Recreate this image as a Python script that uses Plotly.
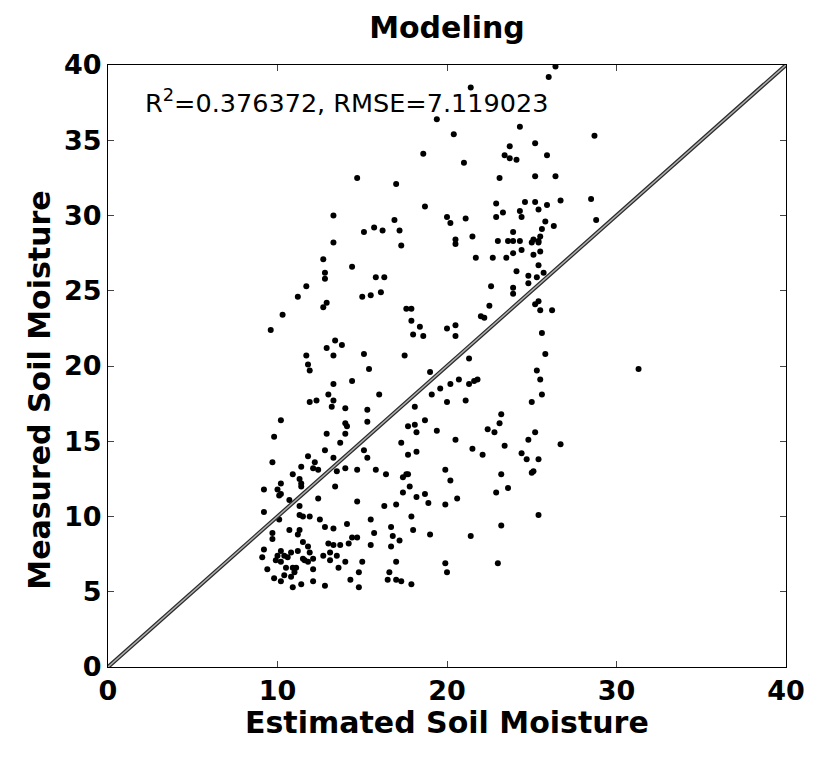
import plotly.graph_objects as go

# Estimated (x) and measured (y) soil moisture
est = [21.4,19.4,20.4,24.3,18.6,21.0,23.7,23.4,23.7,24.1,25.2,14.7,17.0,23.1,25.2,18.7,13.3,16.9,17.2,15.1,15.7,16.2,13.3,17.3,20.0,20.2,21.1,20.5,20.5,21.5,22.9,22.9,23.3,24.6,25.2,25.4,24.3,24.4,23.9,23.0,23.6,23.9,24.3,25.0,25.4,25.5,25.6,21.7,22.7,23.5,23.9,24.4,25.1,25.5,12.7,
       26.4,26.0,28.7,25.9,26.4,28.5,26.7,25.9,28.8,25.8,26.3,25.1,25.4,
       12.8,12.8,14.4,11.7,11.2,12.9,12.7,10.3,9.6,15.8,16.3,15.0,15.5,16.1,17.6,17.9,17.9,18.4,18.0,18.6,20.0,20.5,20.5,24.1,24.8,25.3,24.8,25.4,25.7,22.6,23.9,23.9,22.5,22.0,22.2,25.2,25.4,25.5,25.6,25.8,12.9,13.4,13.8,13.3,11.7,11.8,11.9,15.1,15.4,17.5,21.3,19.0,20.7,20.2,21.3,21.6,21.8,19.6,19.1,20.0,21.1,25.3,25.5,25.6,25.0,13.3,14.4,13.0,13.3,13.2,11.9,12.3,14.0,16.0,15.3,15.3,18.1,18.7,17.7,18.1,18.2,19.4,20.5,22.4,22.8,23.2,23.1,25.2,24.8,23.4,10.2,9.8,14.0,14.1,14.0,12.9,13.7,17.3,21.5,
       26.2,31.3,26.7,
       12.8,11.8,9.7,12.2,12.1,12.4,11.4,10.9,11.3,11.4,11.4,10.2,9.2,10.0,10.1,10.2,10.7,12.4,13.4,13.5,13.3,14.0,15.1,15.3,14.7,15.8,16.4,17.7,18.2,17.4,17.6,17.7,17.8,17.4,18.7,18.2,18.9,19.9,20.2,20.6,19.9,22.1,24.4,24.7,25.4,25.1,25.0,23.2,22.9,23.6,25.4,23.2,23.0,21.4,19.9,20.0,19.0,18.0,17.9,17.0,16.3,16.7,16.8,17.2,16.7,17.0,16.6,16.5,17.0,17.3,17.9,15.5,15.7,15.5,15.0,14.8,14.8,14.3,14.7,14.1,14.4,14.7,14.2,14.0,13.6,13.3,12.8,12.5,13.0,13.3,13.7,12.7,13.1,13.5,13.1,12.8,12.1,12.1,11.8,11.9,12.1,11.8,11.5,11.6,11.5,11.3,11.5,11.9,11.3,11.3,10.7,11.2,10.8,11.2,10.6,10.4,10.2,10.0,9.9,10.2,10.5,10.9,11.1,11.0,10.8,10.4,10.2,9.8,9.4,10.9,11.4,9.1,9.2,9.7,9.7,9.2,10.1]
meas = [38.5,36.4,35.4,35.9,34.1,33.5,34.6,34.0,33.8,33.7,34.8,32.5,32.1,32.5,32.6,30.6,30.0,29.7,29.0,28.9,29.2,29.0,28.2,28.0,29.9,29.5,29.8,28.4,28.1,28.6,30.8,29.9,30.2,30.9,30.9,30.4,30.3,29.9,28.9,28.3,28.3,28.3,28.3,28.2,28.3,28.6,29.1,27.2,27.2,27.2,27.5,27.7,27.4,27.6,27.1,
        39.9,39.2,35.3,34.0,32.6,31.1,31.0,30.7,29.7,29.6,29.3,28.4,28.2,
        26.2,25.8,26.6,25.3,24.6,24.2,23.9,23.4,22.4,25.9,25.9,24.6,24.7,24.9,23.8,23.8,23.0,22.6,22.1,22.0,22.5,22.7,22.0,26.3,26.0,25.9,25.5,26.7,26.2,25.3,25.2,24.8,24.0,23.3,23.2,24.1,24.3,23.7,22.2,20.8,21.2,21.7,21.4,20.7,20.7,20.1,19.7,20.8,19.8,20.7,20.5,19.6,19.1,18.8,18.8,19.0,19.1,18.5,18.1,17.6,17.7,19.7,19.1,18.1,17.6,18.8,19.0,18.1,17.7,17.3,17.6,17.7,17.2,18.1,17.1,16.3,17.3,16.4,16.0,16.1,15.6,15.7,15.1,15.8,15.6,16.8,16.2,15.6,15.1,14.7,16.4,15.3,16.2,16.0,15.5,15.5,14.9,14.9,14.5,
        23.7,19.8,14.8,
        14.4,14.0,13.6,13.6,13.2,13.1,13.3,12.8,12.5,12.2,12.0,12.2,11.8,11.8,11.4,11.5,11.1,11.2,12.0,13.0,13.9,13.2,14.4,13.9,13.1,13.1,12.8,14.1,14.3,12.6,12.8,12.8,12.0,11.6,11.5,11.3,10.9,13.1,12.4,11.2,10.8,14.1,14.2,13.8,13.8,13.0,12.9,12.8,11.6,11.9,10.1,9.4,6.9,8.7,6.9,6.3,8.8,9.1,10.0,10.8,10.7,9.3,8.7,8.4,8.0,7.0,6.3,5.8,5.8,5.7,5.5,9.8,8.9,8.1,7.0,6.3,5.3,5.8,11.0,9.5,8.6,8.6,8.2,7.0,6.6,9.2,9.3,9.8,8.2,8.1,8.1,7.4,7.6,7.4,7.1,5.4,5.7,6.5,8.0,7.6,7.2,7.0,7.2,7.1,8.3,10.1,10.0,10.0,10.7,9.1,9.1,8.8,7.6,7.7,7.3,7.4,7.7,7.4,7.1,7.0,6.6,6.6,6.6,6.3,6.0,6.1,5.7,5.9,6.5,5.3,5.5,7.3,7.8,8.9,8.5,10.3,9.8]

line_x = [0, 40]
line_y = [0, 40]
y_ticks = [0, 5, 10, 15, 20, 25, 30, 35, 40]
x_ticks = [0, 10, 20, 30, 40]

title_text = "Modeling"
x_title = "Estimated Soil Moisture"
y_title = "Measured Soil Moisture"
stats_text = "R<sup>2</sup>=0.376372, RMSE=7.119023"

fig = go.Figure()
fig.add_trace(go.Scatter(x=est, y=meas, mode="markers",
                         marker=dict(color="black", size=6, symbol="circle"),
                         showlegend=False, hoverinfo="x+y"))
fig.add_trace(go.Scatter(x=line_x, y=line_y, mode="lines",
                         line=dict(color="#2a2a2a", width=4),
                         showlegend=False, hoverinfo="skip"))
fig.add_trace(go.Scatter(x=line_x, y=line_y, mode="lines",
                         line=dict(color="#b0b0b0", width=1.5),
                         showlegend=False, hoverinfo="skip"))

bold = dict(family="DejaVu Sans", size=27, color="black", weight="bold")
fig.update_layout(
    width=817, height=757,
    margin=dict(l=108, r=25, t=65, b=90),
    paper_bgcolor="white", plot_bgcolor="white",
    title=dict(text=title_text, x=0.5, xref="paper", xanchor="center",
               y=1 - 27 / 757, yref="container", yanchor="middle",
               font=dict(family="DejaVu Sans", size=30, color="black", weight="bold")),
    xaxis=dict(range=[0, 40], tickvals=x_ticks, ticks="inside", ticklen=6,
               showline=True, linecolor="black", linewidth=1, mirror="ticks",
               showgrid=False, zeroline=False, tickfont=bold, fixedrange=True),
    yaxis=dict(range=[0, 40], tickvals=y_ticks, ticks="inside", ticklen=6,
               showline=True, linecolor="black", linewidth=1, mirror="ticks",
               showgrid=False, zeroline=False, tickfont=bold, fixedrange=True),
    annotations=[
        dict(text=stats_text, xref="paper", yref="paper", x=0.0512, y=0.94,
             xanchor="left", yanchor="middle", showarrow=False,
             font=dict(family="DejaVu Sans", size=25.5, color="black")),
        dict(text=x_title, xref="paper", yref="paper", x=0.5, y=-0.0914,
             xanchor="center", yanchor="middle", showarrow=False,
             font=dict(family="DejaVu Sans", size=30, color="black", weight="bold")),
        dict(text=y_title, xref="paper", yref="paper", x=-0.1023, y=0.46,
             xanchor="center", yanchor="middle", showarrow=False, textangle=-90,
             font=dict(family="DejaVu Sans", size=30, color="black", weight="bold")),
    ],
)

fig.write_html("out.html")
